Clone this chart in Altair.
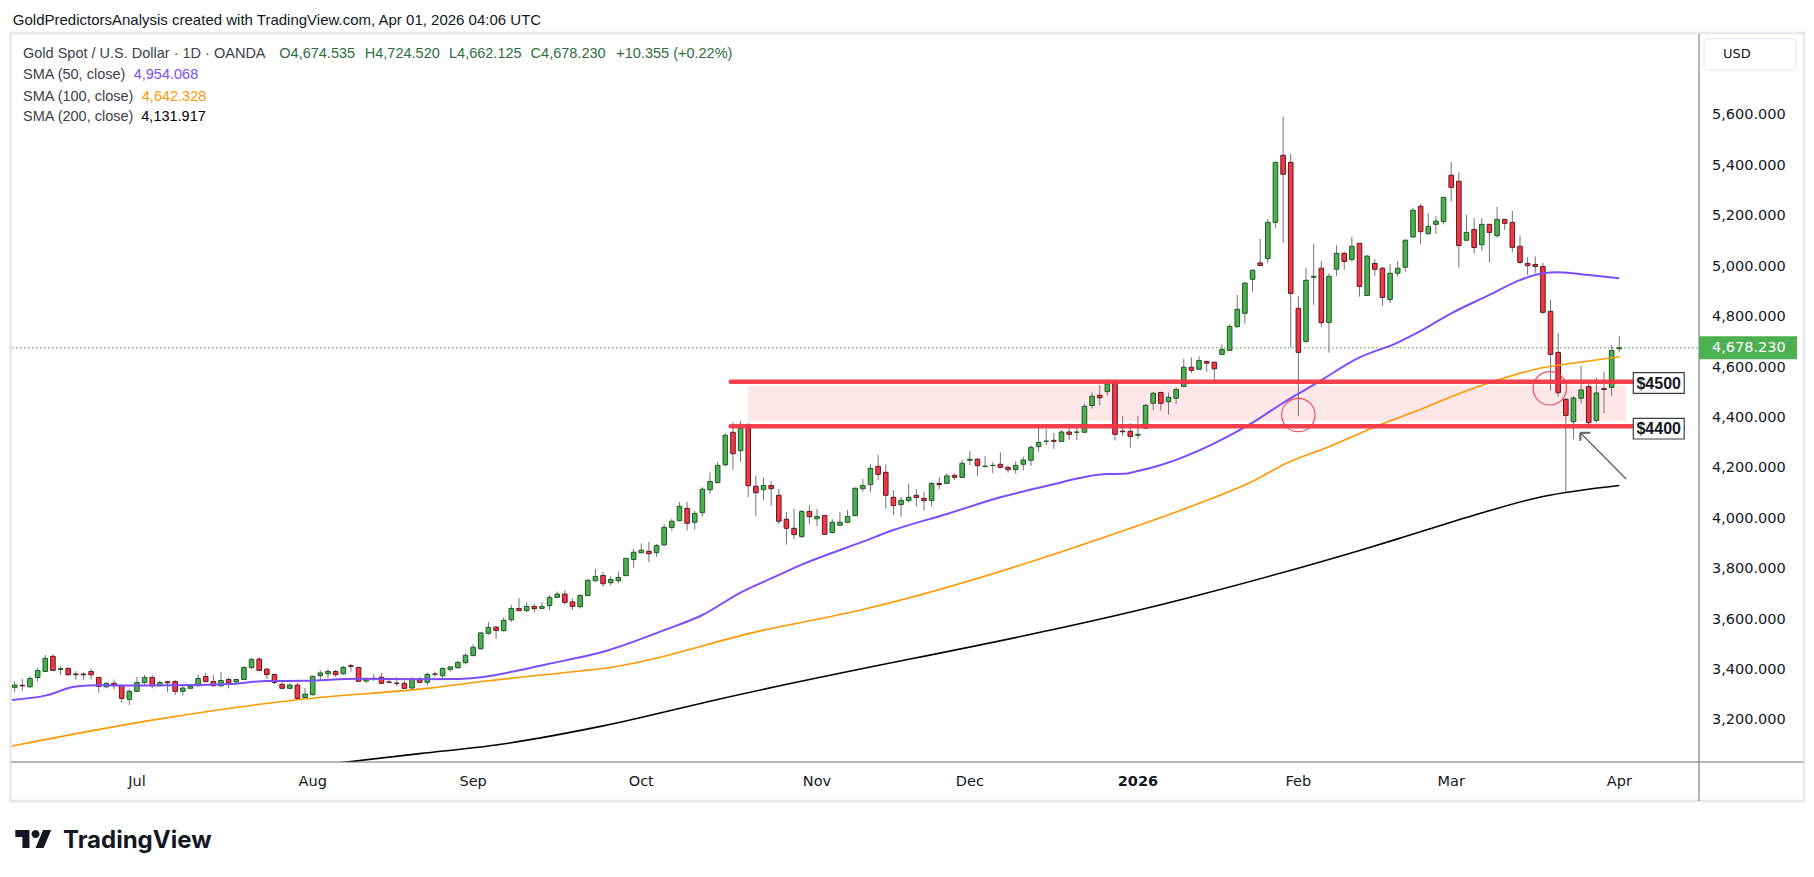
import altair as alt
import pandas as pd

# ---------------- data ----------------
opens = [3331,3339,3333,3370,3394,3454,3402,3406,3384,3384,3394,3370,3333,3347,3339,3283,3315,3350,3370,3337,
         3353,3354,3315,3327,3337,3374,3354,3337,3362,3353,3362,3410,3443,3403,3382,3343,3327,3340,3291,3302,
         3377,3385,3394,3385,3417,3410,3356,3364,3371,3352,3348,3347,3328,3364,3351,3384,3377,3402,3409,3429,
         3457,3484,3545,3570,3556,3599,3644,3635,3652,3644,3655,3688,3701,3670,3651,3695,3754,3775,3746,3754,
         3774,3838,3865,3871,3865,3896,3965,3992,4041,3986,4024,4115,4143,4214,4343,4270,4371,4129,4115,4132,
         4093,3998,3962,3929,4029,4000,4013,3945,3974,3986,4012,4119,4135,4208,4184,4085,4056,4072,4093,4081,
         4072,4140,4140,4172,4164,4232,4236,4207,4211,4216,4204,4195,4216,4232,4286,4307,4311,4307,4344,4343,
         4343,4449,4490,4504,4545,4348,4347,4331,4359,4458,4501,4464,4478,4525,4601,4593,4624,4621,4652,4668,
         4762,4815,4950,5015,5032,5176,5442,5414,4835,4703,4958,4994,4779,4990,5053,5029,5093,4886,5013,4994,
         4870,4974,4998,5118,5240,5131,5168,5179,5363,5339,5105,5148,5087,5168,5123,5188,5176,5081,5013,5009,
         5001,4823,4660,4474,4385,4478,4524,4390,4516,4521,4674.535]
highs = [3353,3364,3376,3409,3459,3462,3415,3410,3395,3390,3406,3374,3350,3362,3340,3323,3372,3380,3380,3358,
         3357,3360,3336,3344,3382,3389,3380,3392,3369,3366,3415,3448,3451,3409,3385,3353,3347,3348,3328,3377,
         3398,3404,3400,3416,3424,3413,3371,3384,3388,3363,3372,3357,3371,3371,3390,3393,3409,3413,3437,3466,
         3502,3549,3590,3573,3609,3658,3685,3668,3662,3670,3697,3711,3716,3684,3699,3759,3800,3789,3771,3791,
         3844,3880,3902,3908,3900,3979,4000,4066,4066,4032,4125,4184,4225,4339,4382,4388,4379,4170,4162,4150,
         4119,4027,4040,4035,4054,4039,4015,3998,4027,4035,4123,4158,4217,4253,4216,4113,4087,4140,4117,4107,
         4146,4164,4180,4180,4233,4269,4240,4249,4224,4263,4211,4228,4246,4291,4360,4357,4340,4352,4378,4361,
         4455,4502,4531,4554,4548,4408,4379,4408,4455,4503,4504,4501,4521,4634,4639,4644,4627,4623,4692,4771,
         4888,4939,4990,5110,5189,5415,5595,5447,4884,4995,5090,5023,4974,5085,5060,5119,5093,5046,5031,5000,
         5011,5023,5109,5234,5250,5213,5200,5278,5416,5376,5205,5193,5193,5170,5237,5189,5221,5124,5038,5041,
         5015,4868,4737,4478,4487,4606,4547,4560,4584,4689,4724.52]
lows = [3313,3317,3329,3353,3393,3397,3381,3377,3361,3361,3362,3310,3327,3324,3270,3261,3313,3340,3327,3335,
        3313,3300,3298,3325,3336,3350,3335,3333,3327,3343,3361,3403,3397,3364,3344,3323,3323,3284,3289,3298,
        3360,3367,3373,3380,3393,3352,3347,3356,3344,3347,3336,3324,3326,3347,3338,3373,3363,3393,3404,3422,
        3454,3482,3540,3523,3552,3590,3634,3630,3627,3642,3638,3685,3659,3638,3643,3693,3750,3730,3736,3744,
        3773,3806,3863,3828,3849,3892,3953,3991,3953,3957,4008,4099,4142,4207,4193,4226,4086,4011,4074,4051,
        3979,3897,3918,3925,3979,3971,3935,3941,3972,3982,4011,4107,4107,4154,4040,4015,4008,4064,4048,4032,
        4048,4118,4138,4154,4162,4213,4170,4203,4181,4200,4183,4179,4192,4209,4266,4293,4277,4306,4312,4312,
        4341,4437,4451,4488,4310,4328,4282,4316,4356,4431,4429,4413,4455,4524,4577,4590,4583,4537,4650,4665,
        4758,4774,4901,5003,5015,5155,5095,4680,4408,4699,4849,4762,4659,4964,4987,5020,4881,4885,4964,4845,
        4856,4960,4980,5115,5090,5126,5130,5168,5258,4996,5103,5052,5064,5016,5115,5146,5056,5011,4967,4974,
        4811,4508,4484,4107,4315,4458,4359,4381,4418,4488,4662.125]
closes = [3340,3337,3366,3398,3446,3398,3405,3381,3381,3381,3381,3335,3347,3339,3287,3315,3350,3370,3337,3350,
          3349,3315,3328,3336,3366,3354,3337,3358,3349,3362,3410,3442,3398,3382,3350,3327,3340,3287,3304,3375,
          3388,3394,3381,3410,3414,3355,3364,3367,3347,3351,3346,3327,3364,3351,3383,3383,3406,3412,3430,3458,
          3490,3547,3569,3557,3597,3644,3635,3652,3643,3652,3688,3701,3668,3652,3696,3756,3771,3742,3759,3767,
          3843,3867,3875,3861,3894,3966,3990,4049,3982,4021,4117,4148,4212,4331,4258,4359,4131,4103,4132,4119,
          3990,3962,3937,4029,4008,4009,3938,3986,3986,4009,4121,4132,4200,4176,4093,4052,4073,4085,4084,4072,
          4140,4135,4170,4164,4220,4236,4211,4209,4212,4204,4195,4212,4233,4283,4303,4308,4307,4344,4335,4344,
          4446,4486,4480,4535,4335,4345,4326,4335,4450,4498,4458,4482,4513,4601,4589,4628,4617,4595,4672,4763,
          4831,4935,4986,5005,5176,5414,5367,4894,4660,4946,4962,4778,4962,5053,5021,5081,4922,5042,4990,4878,
          4974,4994,5105,5224,5139,5160,5181,5275,5315,5084,5136,5076,5168,5136,5188,5172,5077,5017,5004,5001,
          4819,4652,4500,4410,4479,4511,4381,4499,4513,4668,4678.23]

holidays = ["2025-12-25", "2026-01-01"]
first_day, last_day = "2025-06-09", "2026-04-01"

sma50_idx = [-0.4, 4, 8, 11, 17, 24, 28, 33, 38, 45, 53, 58, 61, 67, 71, 74, 77, 85, 90, 95, 99, 103, 111,
             115, 122, 129, 135, 143, 145, 147, 150, 157, 162, 166, 170, 176, 181, 184, 188, 193, 197, 200, 202, 206, 210]
sma50_val = [3281, 3298, 3334, 3339, 3338, 3340, 3344, 3356, 3357, 3365, 3363, 3364, 3371, 3405, 3431, 3450, 3472,
             3558, 3618, 3707, 3763, 3818, 3909, 3955, 4019, 4085, 4130, 4177, 4178, 4189, 4213, 4299, 4381, 4460,
             4531, 4640, 4699, 4745, 4815, 4888, 4947, 4974, 4978, 4967, 4954.068]
sma100_idx = [-0.4, 18, 37, 54, 62, 74, 77, 98, 111, 146, 155, 162.5, 166.4, 172, 178.6, 184, 188, 194.4, 199.6, 204.8, 210]
sma100_val = [3098, 3201, 3282, 3327, 3357, 3396, 3406, 3558, 3640, 3962, 4061, 4156, 4220, 4286, 4372, 4434,
              4484, 4553, 4597, 4621, 4642.328]
sma200_idx = [41, 53, 63, 77, 92, 155, 177, 181, 190, 200, 210]
sma200_val = [3026, 3068, 3102, 3178, 3283, 3697, 3883, 3920, 4005, 4088, 4131.917]

price_ticks = [3200, 3400, 3600, 3800, 4000, 4200, 4400, 4600, 4800, 5000, 5200, 5400, 5600]
last_price = 4678.23
level_prices = [4544, 4366.5]
level_texts = ["$4500", "$4400"]
level_span = [93.7, 211.8]
zone_prices = [4388, 4528]
zone_span = [96.0, 210.9]
circle_idx = [168.0, 200.9]
circle_price = [4411.6, 4517.5]
arrow_idx = [210.9, 204.9]
arrow_price = [4157.6, 4341.0]

# ---------------- layout ----------------
W, H = 1687, 727
PAD = {"left": 12, "top": 35, "right": 1814 - 12 - W, "bottom": 877 - 35 - H}
XDOM = [-0.353, 220.43]
YDOM = [3034.7, 5919.4]
SANS = "Liberation Sans"
AXF = "DejaVu Sans"
INK = "#131722"
LEG = "#3d4049"
GREEN, GREEN_EDGE = "#4CAF50", "#1d5a24"
RED, RED_EDGE = "#F23645", "#5e1a20"
WICK = "#737375"

dates = [d for d in pd.bdate_range(first_day, last_day) if d.strftime("%Y-%m-%d") not in holidays]
candles = pd.DataFrame({"i": range(len(opens)), "o": opens, "h": highs, "l": lows, "c": closes,
                        "date": dates})

# month labels at the first bar of each month
mrows = []
prev = dates[0].month
for k, d in enumerate(dates):
    if d.month != prev:
        lab = str(d.year) if d.month == 1 else d.strftime("%b")
        mrows.append({"i": k, "lab": lab, "bold": d.month == 1})
    prev = d.month
months = pd.DataFrame(mrows)

xs = alt.Scale(domain=XDOM, nice=False, zero=False)
ys = alt.Scale(domain=YDOM, nice=False, zero=False)
X = lambda f: alt.X(f, type="quantitative", scale=xs, axis=None)
Y = lambda f: alt.Y(f, type="quantitative", scale=ys, axis=None)


def txt(text, x, y, size=14.5, color=INK, weight="normal", font=SANS, align="left"):
    return alt.Chart(pd.DataFrame({"t": [text]})).mark_text(
        align=align, baseline="middle", fontSize=size, font=font, fontWeight=weight, color=color
    ).encode(x=alt.value(x), y=alt.value(y), text="t:N")


layers = []

# outer frame
layers.append(alt.Chart(pd.DataFrame({"a": [0]})).mark_rect(
    fill=None, stroke="#e6e8ee", strokeWidth=2.5).encode(
    x=alt.value(-1.5), x2=alt.value(1792), y=alt.value(-2), y2=alt.value(766)))

# zone band
zone = pd.DataFrame({"a": [zone_span[0]], "b": [zone_span[1]], "lo": [zone_prices[0]], "hi": [zone_prices[1]]})
layers.append(alt.Chart(zone).mark_rect(color=RED, opacity=0.12).encode(
    x=X("a"), x2="b:Q", y=Y("lo"), y2="hi:Q"))

# current price dotted line
layers.append(alt.Chart(pd.DataFrame({"p": [last_price]})).mark_rule(
    color="#43a047", strokeDash=[1.5, 2.5], strokeWidth=1).encode(
    y=Y("p"), x=alt.value(0), x2=alt.value(W)))

# candles
base = alt.Chart(candles)
layers.append(base.mark_rule(color=WICK, strokeWidth=1).encode(x=X("i"), y=Y("l"), y2="h:Q"))
up = "datum.c >= datum.o"
layers.append(base.transform_calculate(x0="datum.i - 0.3", x1="datum.i + 0.3").mark_rect(strokeWidth=1).encode(
    x=X("x0"), x2="x1:Q", y=Y("o"), y2="c:Q",
    fill=alt.condition(up, alt.value(GREEN), alt.value(RED)),
    stroke=alt.condition(up, alt.value(GREEN_EDGE), alt.value(RED_EDGE))))

# moving averages
for idx, val, col, sw in [(sma200_idx, sma200_val, "#000000", 1.6),
                          (sma100_idx, sma100_val, "#FF9800", 1.6),
                          (sma50_idx, sma50_val, "#7C4DFF", 2)]:
    layers.append(alt.Chart(pd.DataFrame({"i": idx, "v": val})).mark_line(
        color=col, strokeWidth=sw, interpolate="monotone", clip=True).encode(x=X("i"), y=Y("v")))

# level lines
lv = pd.DataFrame({"a": [level_span[0]] * 2, "b": [level_span[1]] * 2, "p": level_prices})
layers.append(alt.Chart(lv).mark_rule(color=RED, strokeWidth=4.5, strokeCap="round", opacity=0.95).encode(
    x=X("a"), x2="b:Q", y=Y("p")))

# circles
layers.append(alt.Chart(pd.DataFrame({"i": circle_idx, "p": circle_price})).mark_point(
    shape="circle", size=1115, filled=False, color=RED, strokeWidth=1.2, opacity=0.85).encode(x=X("i"), y=Y("p")))

# arrow
arr = pd.DataFrame({"a": [arrow_idx[0]], "b": [arrow_idx[1]], "p": [arrow_price[0]], "q": [arrow_price[1]]})
layers.append(alt.Chart(arr).mark_rule(color="#5d606b", strokeWidth=1.3).encode(
    x=X("a"), x2="b:Q", y=Y("p"), y2="q:Q"))
head = pd.DataFrame({"a": [arrow_idx[1], arrow_idx[1]], "b": [arrow_idx[1] + 1.3, arrow_idx[1]],
                     "p": [arrow_price[1], arrow_price[1]], "q": [arrow_price[1], arrow_price[1] - 32]})
layers.append(alt.Chart(head).mark_rule(color="#5d606b", strokeWidth=2).encode(
    x=X("a"), x2="b:Q", y=Y("p"), y2="q:Q"))

# level label boxes
for t, yc in zip(level_texts, [348.0, 393.7]):
    layers.append(alt.Chart(pd.DataFrame({"a": [0]})).mark_rect(
        fill="white", stroke="#3a3d45", strokeWidth=1.2).encode(
        x=alt.value(1621.3), x2=alt.value(1672.2), y=alt.value(yc - 10.3), y2=alt.value(yc + 10.3)))
    layers.append(txt(t, 1646.7, yc + 0.5, size=16, weight="bold", align="center"))

# separators
layers.append(alt.Chart(pd.DataFrame({"a": [0]})).mark_rule(color="#6a6d78", strokeWidth=1).encode(
    x=alt.value(W), y=alt.value(-1), y2=alt.value(766)))
layers.append(alt.Chart(pd.DataFrame({"a": [0]})).mark_rule(color="#6a6d78", strokeWidth=1).encode(
    y=alt.value(H), x=alt.value(-1), x2=alt.value(1791)))

# price axis labels
ticks = pd.DataFrame({"p": price_ticks, "t": [f"{v:,.3f}" for v in price_ticks]})
layers.append(alt.Chart(ticks).mark_text(align="left", baseline="middle", fontSize=14.5, font=AXF,
                                         color=INK).encode(x=alt.value(1700), y=Y("p"), text="t:N"))
# current price tag
tag_w, tag_h = 98, 23
shape = f"M-1,{-tag_h / tag_w:.4f}L1,{-tag_h / tag_w:.4f}L1,{tag_h / tag_w:.4f}L-1,{tag_h / tag_w:.4f}Z"
cur = pd.DataFrame({"p": [last_price], "t": [f"{last_price:,.3f}"]})
layers.append(alt.Chart(cur).mark_point(shape=shape, size=tag_w * tag_w, filled=True, color="#4CAF50",
                                        opacity=1).encode(x=alt.value(W + tag_w / 2), y=Y("p")))
layers.append(alt.Chart(cur).mark_text(align="left", baseline="middle", fontSize=14.5, font=AXF,
                                       color="white").encode(x=alt.value(1700), y=Y("p"), text="t:N"))
# USD box
layers.append(alt.Chart(pd.DataFrame({"a": [0]})).mark_rect(
    fill="white", stroke="#e0e3eb", strokeWidth=1, cornerRadius=4).encode(
    x=alt.value(1692), x2=alt.value(1784), y=alt.value(4), y2=alt.value(35)))
layers.append(txt("USD", 1711, 19, size=13, font=AXF))

# time axis labels
for flag, wt in [(False, "normal"), (True, "bold")]:
    layers.append(alt.Chart(months[months["bold"] == flag]).mark_text(
        baseline="middle", fontSize=14.5, font=AXF, color=INK, fontWeight=wt).encode(
        x=X("i"), y=alt.value(747), text="lab:N"))

# header and legend
layers.append(txt("GoldPredictorsAnalysis created with TradingView.com, Apr 01, 2026 04:06 UTC", 0.8, -15,
                  size=15))
layers.append(txt("Gold Spot / U.S. Dollar · 1D · OANDA", 11, 19, color=LEG))
OHLC_C = "#2e6e3e"
for t, x in [("O4,674.535", 267.3), ("H4,724.520", 352.8), ("L4,662.125", 437), ("C4,678.230", 518.6),
             ("+10.355 (+0.22%)", 604.3)]:
    layers.append(txt(t, x, 19, color=OHLC_C))
for lab, val, col, xv, yv in [("SMA (50, close)", "4,954.068", "#7C4DFF", 121.7, 40),
                              ("SMA (100, close)", "4,642.328", "#FF9800", 129.8, 61.7),
                              ("SMA (200, close)", "4,131.917", "#000000", 129.3, 82.3)]:
    layers.append(txt(lab, 11, yv, color=LEG))
    layers.append(txt(val, xv, yv, color=col))

# TradingView logo
logo = ("M-1,-0.5L-0.222,-0.5L-0.222,0.5L-0.611,0.5L-0.611,-0.111L-1,-0.111Z"
        "M-0.111,-0.278A0.222,0.222,0,1,0,0.333,-0.278A0.222,0.222,0,1,0,-0.111,-0.278Z"
        "M0.111,0.5L0.528,-0.5L0.972,-0.5L0.556,0.5Z")
layers.append(alt.Chart(pd.DataFrame({"a": [0]})).mark_point(
    shape=logo, size=1325, filled=True, color=INK, opacity=1, strokeWidth=0).encode(
    x=alt.value(21.5), y=alt.value(804)))
layers.append(txt("TradingView", 51, 806, size=24, weight="bold", font="Inter"))

chart = alt.layer(*layers).properties(
    width=W, height=H, padding=PAD, autosize=alt.AutoSizeParams(type="none"), background="white"
).configure_view(stroke=None)

chart.save("out.html", embed_options={"renderer": "svg", "actions": False})
